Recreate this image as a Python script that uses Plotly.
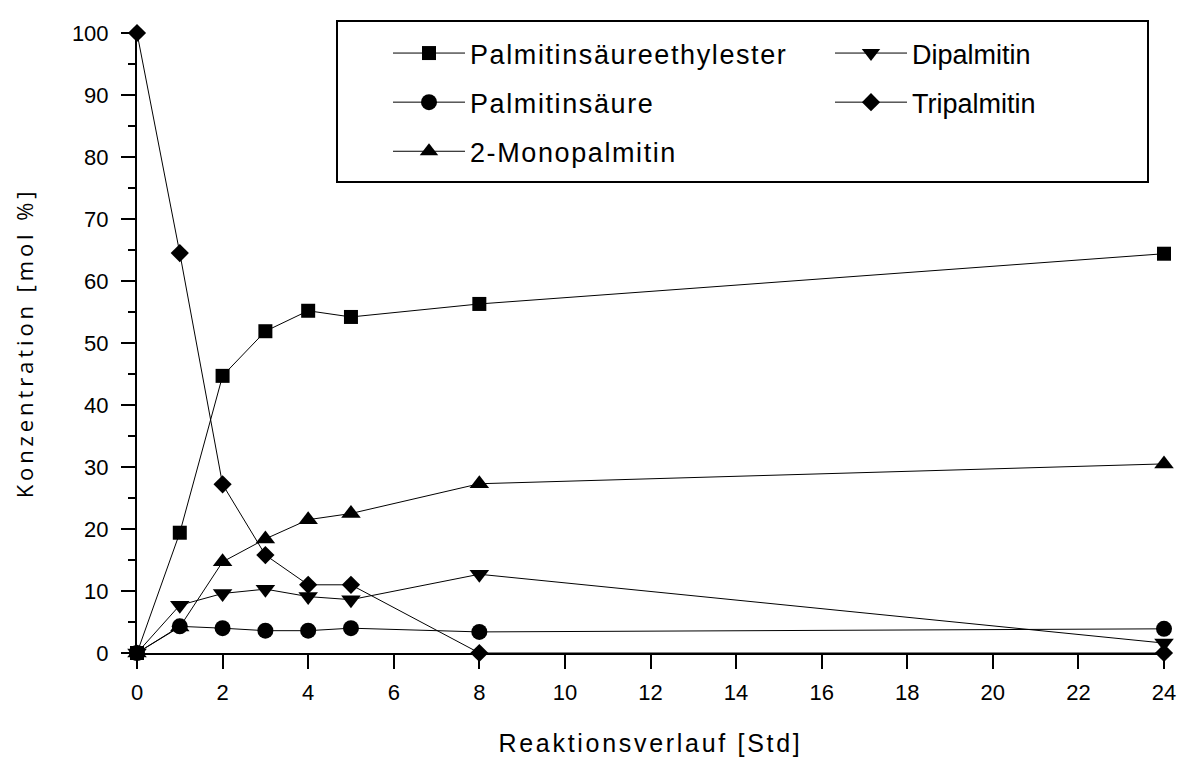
import plotly.graph_objects as go

# ---- data ----
time_h = [0, 1, 2, 3, 4, 5, 8, 24]
ester = [0, 19.4, 44.7, 51.9, 55.2, 54.2, 56.3, 64.4]        # Palmitinsäureethylester
palm_acid = [0, 4.3, 4.0, 3.6, 3.6, 4.0, 3.4, 3.9]          # Palmitinsäure
mono = [0, 4.2, 14.7, 18.4, 21.5, 22.5, 27.3, 30.5]         # 2-Monopalmitin
dipalm = [0, 7.7, 9.6, 10.3, 9.1, 8.6, 12.7, 1.6]           # Dipalmitin
tripalm = [100, 64.5, 27.2, 15.8, 11.0, 11.0, 0, 0]         # Tripalmitin

x_ticks = [0, 2, 4, 6, 8, 10, 12, 14, 16, 18, 20, 22, 24]
y_ticks = [0, 10, 20, 30, 40, 50, 60, 70, 80, 90, 100]

series = [
    ("Palmitinsäureethylester", ester, "square", 14, "legend", "g1"),
    ("Palmitinsäure", palm_acid, "circle", 16, "legend", "g2"),
    ("2-Monopalmitin", mono, "triangle-up", 17, "legend", "g3"),
    ("Dipalmitin", dipalm, "triangle-down", 17, "legend2", "g4"),
    ("Tripalmitin", tripalm, "diamond", 14, "legend2", "g5"),
]

W, H = 1183, 758
ML, MR, MT, MB = 137, 19, 33, 105
PW, PH = W - ML - MR, H - MT - MB
SANS = "Liberation Sans, Arial, sans-serif"

def px_x(p):
    return (p - ML) / PW

def px_y(p):
    return (H - MB - p) / PH

fig = go.Figure()
for name, vals, sym, size, leg, grp in series:
    fig.add_trace(go.Scatter(
        x=time_h, y=vals, name=name, mode="lines+markers",
        line=dict(color="black", width=1),
        marker=dict(symbol=sym, size=size, color="black", line=dict(width=0)),
        legend=leg, legendgroup=grp, cliponaxis=False,
    ))

# legend frame
fig.add_shape(type="rect", xref="paper", yref="paper",
              x0=px_x(337), x1=px_x(1148), y0=px_y(182), y1=px_y(21),
              line=dict(color="black", width=2), fillcolor="rgba(0,0,0,0)")

legend_common = dict(
    font=dict(family=SANS, size=27, color="black"),
    bgcolor="rgba(0,0,0,0)", borderwidth=0, itemwidth=72,
    traceorder="grouped", tracegroupgap=11,
    xanchor="left", yanchor="top", orientation="v",
)

fig.update_layout(
    width=W, height=H,
    margin=dict(l=ML, r=MR, t=MT, b=MB, autoexpand=False),
    paper_bgcolor="white", plot_bgcolor="white",
    font=dict(family=SANS, color="black"),
    legend=dict(x=px_x(388), y=px_y(29), **legend_common),
    legend2=dict(x=px_x(830), y=px_y(29), **legend_common),
    xaxis=dict(
        range=[0, 24], tickvals=x_ticks, ticktext=[str(v) for v in x_ticks],
        automargin=False,
        showgrid=False, zeroline=False, showline=True, linecolor="black", linewidth=2,
        ticks="outside", ticklen=14, tickwidth=2, tickcolor="black",
        ticklabelstandoff=5,
        tickfont=dict(size=22, family=SANS),
        title=dict(text="Reaktionsverlauf [Std]", standoff=30,
                   font=dict(size=25, family=SANS)),
    ),
    yaxis=dict(
        range=[0, 100], tickvals=y_ticks, ticktext=[str(v) for v in y_ticks],
        automargin=False,
        showgrid=False, zeroline=False, showline=True, linecolor="black", linewidth=2,
        ticks="outside", ticklen=14, tickwidth=2, tickcolor="black",
        ticklabelstandoff=8,
        minor=dict(dtick=5, ticks="outside", ticklen=7, tickwidth=2, tickcolor="black"),
        tickfont=dict(size=22, family=SANS),
        title=dict(text="Konzentration [mol %]", standoff=32,
                   font=dict(size=22, family="Open Sans, sans-serif")),
    ),
)

post = """
function sp(sel, v){ document.querySelectorAll(sel).forEach(function(e){ e.style.letterSpacing = v; }); }
sp('.xtitle', '2.7px'); sp('.ytitle', '3.9px'); sp('.legendtext', '1.6px');
document.querySelectorAll('.legend [clip-path]').forEach(function(e){ e.removeAttribute('clip-path'); });
"""

fig.write_html("out.html", post_script=post)
